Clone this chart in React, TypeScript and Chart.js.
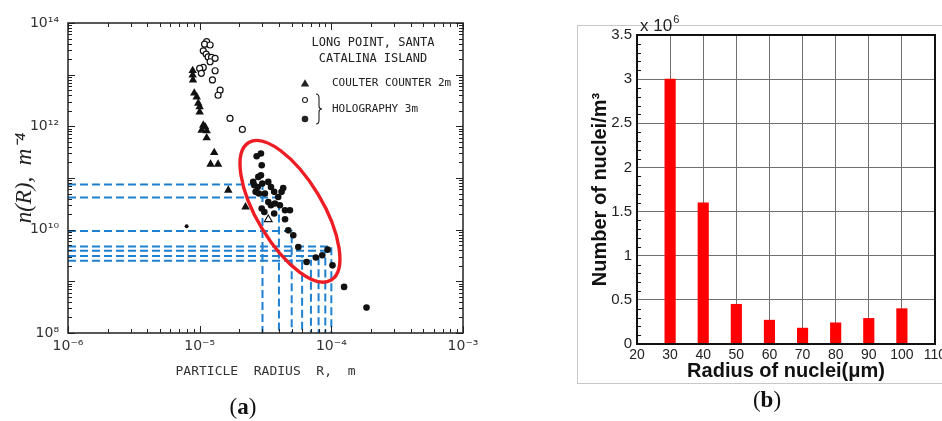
import React, { useEffect, useRef } from "react";
import { Chart, registerables } from "chart.js";

Chart.register(...registerables);

// ---------------- Panel (a): n(R) versus particle radius (log-log) ----------------
const xDecadeTicks = [1e-6, 1e-5, 1e-4, 1e-3];
const yDecadeTicks = [1e8, 1e10, 1e12, 1e14];

// Coulter counter 2 m (filled triangles)
const coulterCounter2m: [number, number][] = [
  [8.85e-6, 1.2e13], [8.85e-6, 9.8e12], [8.9e-6, 7.85e12], [9.1e-6, 4.4e12],
  [9.5e-6, 3.7e12], [9.76e-6, 2.8e12], [1.0e-5, 2.39e12], [1.0e-5, 1.88e12],
  [1.065e-5, 1.05e12], [1.1e-5, 9.8e11], [1.035e-5, 8.4e11], [1.13e-5, 8.2e11],
  [1.13e-5, 6.0e11], [1.29e-5, 3.1e11], [1.21e-5, 1.85e11], [1.38e-5, 1.85e11],
  [1.65e-5, 5.8e10], [2.23e-5, 2.75e10],
];
// single open triangle
const coulterOpen: [number, number][] = [[3.32e-5, 1.58e10]];

// Holography 3 m (open circles)
const holographyOpen3m: [number, number][] = [
  [1.13e-5, 4.35e13], [1.09e-5, 3.9e13], [1.2e-5, 3.75e13], [1.065e-5, 2.9e13],
  [1.12e-5, 2.5e13], [1.16e-5, 2.2e13], [1.23e-5, 2.16e13], [1.31e-5, 2.07e13],
  [1.2e-5, 1.78e13], [1.065e-5, 1.38e13], [1.0e-5, 1.32e13], [1.03e-5, 1.06e13],
  [1.31e-5, 1.19e13], [1.25e-5, 7.9e12], [1.43e-5, 5.0e12], [1.38e-5, 4.0e12],
  [1.7e-5, 1.42e12], [2.11e-5, 8.7e11],
];

// Holography 3 m (filled circles)
const holographyFilled3m: [number, number][] = [
  [2.92e-5, 2.98e11], [2.71e-5, 2.64e11], [2.96e-5, 1.77e11], [2.92e-5, 1.13e11],
  [2.79e-5, 1.05e11], [2.55e-5, 8.4e10], [2.6e-5, 7.25e10], [2.76e-5, 6.7e10],
  [2.99e-5, 7.8e10], [3.32e-5, 8.4e10], [3.48e-5, 6.7e10], [2.66e-5, 5.4e10],
  [2.82e-5, 5.0e10], [3.13e-5, 5.0e10], [3.68e-5, 5.4e10], [4.31e-5, 6.4e10],
  [4.19e-5, 5.4e10], [3.95e-5, 4.3e10], [3.32e-5, 3.44e10], [3.48e-5, 2.97e10],
  [3.73e-5, 3.2e10], [4.07e-5, 2.97e10], [4.45e-5, 2.38e10], [4.85e-5, 2.38e10],
  [3.1e-5, 2.2e10], [3.68e-5, 2.05e10], [2.96e-5, 2.57e10], [4.45e-5, 1.59e10],
  [4.71e-5, 9.7e9], [5.14e-5, 7.8e9], [5.61e-5, 4.6e9], [6.49e-5, 2.37e9],
  [7.63e-5, 2.9e9], [8.53e-5, 3.2e9], [9.37e-5, 4.1e9], [1.02e-4, 2.04e9],
  [1.25e-4, 7.8e8], [1.85e-4, 3.1e8],
];
const strayMark: [number, number][] = [[7.96e-6, 1.16e10]];

// read-off guide lines (blue dashed)
const binRadius_m = [3e-5, 4e-5, 5e-5, 6e-5, 7e-5, 8e-5, 9e-5, 1e-4];
const binDensity = [7.5e10, 4.2e10, 9.4e9, 3.1e9, 2.5e9, 3.1e9, 3.9e9, 4.7e9];

// highlighted region (red ellipse): major-axis end points in data units
const highlightEnds: [number, number][] = [[2.36e-5, 4.85e11], [9.97e-5, 1.06e9]];
const highlightMinorRatio = 0.41;

// ---------------- Panel (b): number of nuclei per radius bin ----------------
const radius_um = [30, 40, 50, 60, 70, 80, 90, 100];
const nuclei_e6_per_m3 = [3.0, 1.6, 0.45, 0.27, 0.18, 0.24, 0.29, 0.4];
const radiusTicks = [20, 30, 40, 50, 60, 70, 80, 90, 100, 110];
const countTicks = [0, 0.5, 1, 1.5, 2, 2.5, 3, 3.5];

const SUP: Record<string, string> = {
  "-": "\u207B", "0": "\u2070", "1": "\u00B9", "2": "\u00B2", "3": "\u00B3",
  "4": "\u2074", "5": "\u2075", "6": "\u2076", "7": "\u2077", "8": "\u2078", "9": "\u2079",
};
const pow10Label = (v: number) =>
  "10" + String(Math.round(Math.log10(v))).split("").map((c) => SUP[c]).join("");

const toPts = (arr: [number, number][]) => arr.map(([x, y]) => ({ x, y }));

const zeroPad = (s: any) => {
  s.paddingLeft = 0; s.paddingRight = 0; s.paddingTop = 0; s.paddingBottom = 0;
};

const INK = "#222";

function drawTri(ctx: CanvasRenderingContext2D, x: number, y: number, r: number) {
  ctx.beginPath();
  for (let i = 0; i < 3; i++) {
    const a = -Math.PI / 2 + (i * 2 * Math.PI) / 3;
    const px = x + Math.cos(a) * r, py = y + Math.sin(a) * r;
    if (i === 0) ctx.moveTo(px, py); else ctx.lineTo(px, py);
  }
  ctx.closePath();
  ctx.fill();
}

const panelADecor = {
  id: "panelADecor",
  afterDatasetsDraw(chart: any) {
    const { ctx, chartArea: ca, scales } = chart;
    const xs = scales.x, ys = scales.y;
    ctx.save();
    // red ellipse
    const [p0, p1] = highlightEnds.map(([vx, vy]) => [xs.getPixelForValue(vx), ys.getPixelForValue(vy)]);
    const cx = (p0[0] + p1[0]) / 2, cy = (p0[1] + p1[1]) / 2;
    const a = Math.hypot(p1[0] - p0[0], p1[1] - p0[1]) / 2;
    const ang = Math.atan2(p1[1] - p0[1], p1[0] - p0[0]);
    ctx.beginPath();
    ctx.ellipse(cx, cy, a, a * highlightMinorRatio, ang, 0, Math.PI * 2);
    ctx.strokeStyle = "#ee1d23";
    ctx.lineWidth = 3.4;
    ctx.stroke();

    // frame
    ctx.strokeStyle = INK;
    ctx.lineWidth = 1.5;
    ctx.strokeRect(ca.left, ca.top, ca.width, ca.height);

    // log ticks, inward on all four sides
    ctx.lineWidth = 1;
    ctx.beginPath();
    for (let e = -6; e <= -3; e++) {
      for (let k = 1; k <= 9; k++) {
        if (e === -3 && k > 1) break;
        const px = Math.round(xs.getPixelForValue(k * Math.pow(10, e))) + 0.5;
        const len = k === 1 ? 7 : 4;
        ctx.moveTo(px, ca.bottom); ctx.lineTo(px, ca.bottom - len);
        ctx.moveTo(px, ca.top); ctx.lineTo(px, ca.top + len);
      }
    }
    for (let e = 8; e <= 14; e++) {
      for (let k = 1; k <= 9; k++) {
        if (e === 14 && k > 1) break;
        const py = Math.round(ys.getPixelForValue(k * Math.pow(10, e))) + 0.5;
        const len = k === 1 ? 7 : 4;
        ctx.moveTo(ca.left, py); ctx.lineTo(ca.left + len, py);
        ctx.moveTo(ca.right, py); ctx.lineTo(ca.right - len, py);
      }
    }
    ctx.stroke();

    // legend
    ctx.fillStyle = INK;
    ctx.textBaseline = "middle";
    ctx.font = '12px "DejaVu Sans Mono"';
    ctx.textAlign = "center";
    ctx.fillText("LONG POINT, SANTA", ca.right - 90, ca.top + 20);
    ctx.fillText("CATALINA ISLAND", ca.right - 90, ca.top + 36);
    ctx.font = '11px "DejaVu Sans Mono"';
    ctx.textAlign = "left";
    ctx.fillText("COULTER COUNTER 2m", ca.right - 131, ca.top + 60);
    ctx.fillText("HOLOGRAPHY 3m", ca.right - 131, ca.top + 86);
    const mx = ca.right - 158;
    drawTri(ctx, mx, ca.top + 61, 4.8);
    ctx.beginPath();
    ctx.arc(mx, ca.top + 77, 2.5, 0, Math.PI * 2);
    ctx.strokeStyle = INK; ctx.lineWidth = 1.1; ctx.stroke();
    ctx.beginPath();
    ctx.arc(mx, ca.top + 96, 3.3, 0, Math.PI * 2);
    ctx.fill();
    // brace
    const bx = ca.right - 144, bt = ca.top + 71, bb = ca.top + 101, bm = (bt + bb) / 2;
    ctx.beginPath();
    ctx.moveTo(bx - 3, bt);
    ctx.quadraticCurveTo(bx, bt, bx, bt + 4);
    ctx.lineTo(bx, bm - 3);
    ctx.quadraticCurveTo(bx, bm, bx + 3, bm);
    ctx.quadraticCurveTo(bx, bm, bx, bm + 3);
    ctx.lineTo(bx, bb - 4);
    ctx.quadraticCurveTo(bx, bb, bx - 3, bb);
    ctx.lineWidth = 1.1;
    ctx.stroke();
    ctx.restore();
  },
};

const panelBDecor = {
  id: "panelBDecor",
  afterDraw(chart: any) {
    const { ctx, chartArea: ca, scales } = chart;
    const ys = scales.y;
    ctx.save();
    ctx.strokeStyle = "#111";
    ctx.lineWidth = 1;
    ctx.beginPath();
    for (let i = 0; i <= 35; i++) {
      if (i % 5 === 0) continue;
      const py = Math.round(ys.getPixelForValue(i / 10)) + 0.5;
      ctx.moveTo(ca.left, py); ctx.lineTo(ca.left + 4, py);
    }
    ctx.stroke();
    ctx.lineWidth = 2;
    ctx.strokeRect(ca.left, ca.top, ca.width, ca.height);
    // multiplier label
    ctx.fillStyle = "#222";
    ctx.textBaseline = "alphabetic";
    ctx.textAlign = "left";
    ctx.font = '17px "Liberation Sans"';
    ctx.fillText("x 10", ca.left + 3, ca.top - 4);
    const w = ctx.measureText("x 10").width;
    ctx.font = '11px "Liberation Sans"';
    ctx.fillText("6", ca.left + 4 + w, ca.top - 12);
    ctx.restore();
  },
};

export default function App() {
  const refA = useRef<HTMLCanvasElement>(null);
  const refB = useRef<HTMLCanvasElement>(null);

  useEffect(() => {
    const guideSets = binRadius_m.map((r, i) => ({
      type: "scatter" as const,
      data: [
        { x: 1e-6, y: binDensity[i] },
        { x: r, y: binDensity[i] },
        { x: r, y: 1e8 },
      ],
      showLine: true,
      borderColor: "#1f80d0",
      borderWidth: 2,
      borderDash: [8, 4],
      pointRadius: 0,
      fill: false,
      tension: 0,
    }));

    const chartA = new Chart(refA.current as HTMLCanvasElement, {
      type: "scatter",
      data: {
        datasets: [
          {
            label: "Holography 3m (filled)",
            data: toPts(holographyFilled3m),
            pointStyle: "circle",
            pointRadius: 3.3,
            backgroundColor: "#111",
            borderColor: "#111",
            borderWidth: 0,
          },
          {
            label: "Holography 3m (open)",
            data: toPts(holographyOpen3m),
            pointStyle: "circle",
            pointRadius: 3,
            backgroundColor: "#fff",
            borderColor: "#111",
            borderWidth: 1.2,
          },
          {
            label: "Coulter counter 2m",
            data: toPts(coulterCounter2m),
            pointStyle: "triangle",
            pointRadius: 4.9,
            backgroundColor: "#111",
            borderColor: "#111",
            borderWidth: 0,
          },
          {
            label: "open triangle",
            data: toPts(coulterOpen),
            pointStyle: "triangle",
            pointRadius: 4.5,
            backgroundColor: "#fff",
            borderColor: "#111",
            borderWidth: 1.1,
          },
          {
            label: "mark",
            data: toPts(strayMark),
            pointStyle: "circle",
            pointRadius: 2,
            backgroundColor: "#111",
            borderWidth: 0,
          },
          ...guideSets,
        ] as any,
      },
      options: {
        responsive: false,
        animation: false,
        events: [],
        layout: { padding: { left: 0, top: 23, right: 17, bottom: 0 } },
        plugins: { legend: { display: false }, tooltip: { enabled: false } },
        scales: {
          x: {
            type: "logarithmic",
            min: 1e-6,
            max: 1e-3,
            afterBuildTicks: (s: any) => { s.ticks = xDecadeTicks.map((v) => ({ value: v })); },
            afterFit: (s: any) => { s.height = 88; zeroPad(s); },
            ticks: {
              callback: (v: any) => pow10Label(Number(v)),
              font: { family: "DejaVu Sans", size: 14 },
              color: "#333",
              padding: 5,
              maxRotation: 0,
              autoSkip: false,
            },
            grid: { display: false, drawTicks: false },
            border: { display: false },
            title: {
              display: true,
              text: "PARTICLE  RADIUS  R,  m",
              font: { family: "DejaVu Sans Mono", size: 13 },
              color: "#333",
              padding: { top: 0, bottom: 42 },
            },
          },
          y: {
            type: "logarithmic",
            min: 1e8,
            max: 1e14,
            afterBuildTicks: (s: any) => { s.ticks = yDecadeTicks.map((v) => ({ value: v })); },
            afterFit: (s: any) => { s.width = 68; zeroPad(s); },
            ticks: {
              callback: (v: any) => pow10Label(Number(v)),
              font: { family: "DejaVu Sans", size: 14 },
              color: "#333",
              padding: 9,
              autoSkip: false,
            },
            grid: { display: false, drawTicks: false },
            border: { display: false },
            title: {
              display: true,
              text: "n(R),  m\u207B\u2074",
              font: { family: "Liberation Serif", size: 23, style: "italic" },
              color: "#222",
              padding: { top: 11, bottom: 0 },
            },
          },
        },
      } as any,
      plugins: [panelADecor],
    });

    const chartB = new Chart(refB.current as HTMLCanvasElement, {
      type: "bar",
      data: {
        datasets: [
          {
            label: "Number of nuclei",
            data: radius_um.map((r, i) => ({ x: r, y: nuclei_e6_per_m3[i] })),
            backgroundColor: "#ff0000",
            borderWidth: 0,
            barThickness: 10.5,
          },
        ] as any,
      },
      options: {
        responsive: false,
        animation: false,
        events: [],
        layout: { padding: { left: 0, top: 35, right: 7, bottom: 0 } },
        plugins: { legend: { display: false }, tooltip: { enabled: false } },
        scales: {
          x: {
            type: "linear",
            min: 20,
            max: 110,
            offset: false,
            afterBuildTicks: (s: any) => { s.ticks = radiusTicks.map((v) => ({ value: v })); },
            afterFit: (s: any) => { s.height = 77; zeroPad(s); },
            ticks: {
              callback: (v: any) => String(v),
              font: { family: "Liberation Sans", size: 14 },
              color: "#222",
              padding: 3,
              maxRotation: 0,
              autoSkip: false,
            },
            grid: { color: "#707070", lineWidth: 1, drawTicks: false, offset: false },
            border: { display: false },
            title: {
              display: true,
              text: "Radius of nuclei(\u03BCm)",
              font: { family: "Liberation Sans", size: 20, weight: "bold" },
              color: "#111",
              padding: { top: 0, bottom: 38 },
            },
          },
          y: {
            type: "linear",
            min: 0,
            max: 3.5,
            afterBuildTicks: (s: any) => { s.ticks = countTicks.map((v) => ({ value: v })); },
            afterFit: (s: any) => { s.width = 67; zeroPad(s); },
            ticks: {
              callback: (v: any) => String(v),
              font: { family: "Liberation Sans", size: 15 },
              color: "#222",
              padding: 5,
              autoSkip: false,
            },
            grid: { color: "#707070", lineWidth: 1, drawTicks: false },
            border: { display: false },
            title: {
              display: true,
              text: "Number of nuclei/m\u00B3",
              font: { family: "Liberation Sans", size: 20, weight: "bold" },
              color: "#111",
              padding: { top: 18, bottom: 0 },
            },
          },
        },
      } as any,
      plugins: [panelBDecor],
    });

    return () => {
      chartA.destroy();
      chartB.destroy();
    };
  }, []);

  const caption: React.CSSProperties = {
    position: "absolute",
    width: 60,
    textAlign: "center",
    fontFamily: '"Liberation Serif", "DejaVu Serif", serif',
    fontSize: 23,
    lineHeight: "26px",
    color: "#111",
  };

  return (
    <div
      style={{
        position: "fixed",
        left: 0,
        top: 0,
        width: 942,
        height: 421,
        background: "#fff",
        overflow: "hidden",
      }}
    >
      <div
        style={{
          position: "absolute",
          left: 577,
          top: 25,
          width: 400,
          height: 357,
          border: "1.5px solid #c8c8c8",
        }}
      />
      <canvas
        ref={refA}
        width={480}
        height={421}
        style={{ position: "absolute", left: 0, top: 0, width: 480, height: 421 }}
      />
      <canvas
        ref={refB}
        width={372}
        height={421}
        style={{ position: "absolute", left: 570, top: 0, width: 372, height: 421 }}
      />
      <div style={{ ...caption, left: 213, top: 394 }}>
        (<b>a</b>)
      </div>
      <div style={{ ...caption, left: 737, top: 387 }}>
        (<b>b</b>)
      </div>
    </div>
  );
}
